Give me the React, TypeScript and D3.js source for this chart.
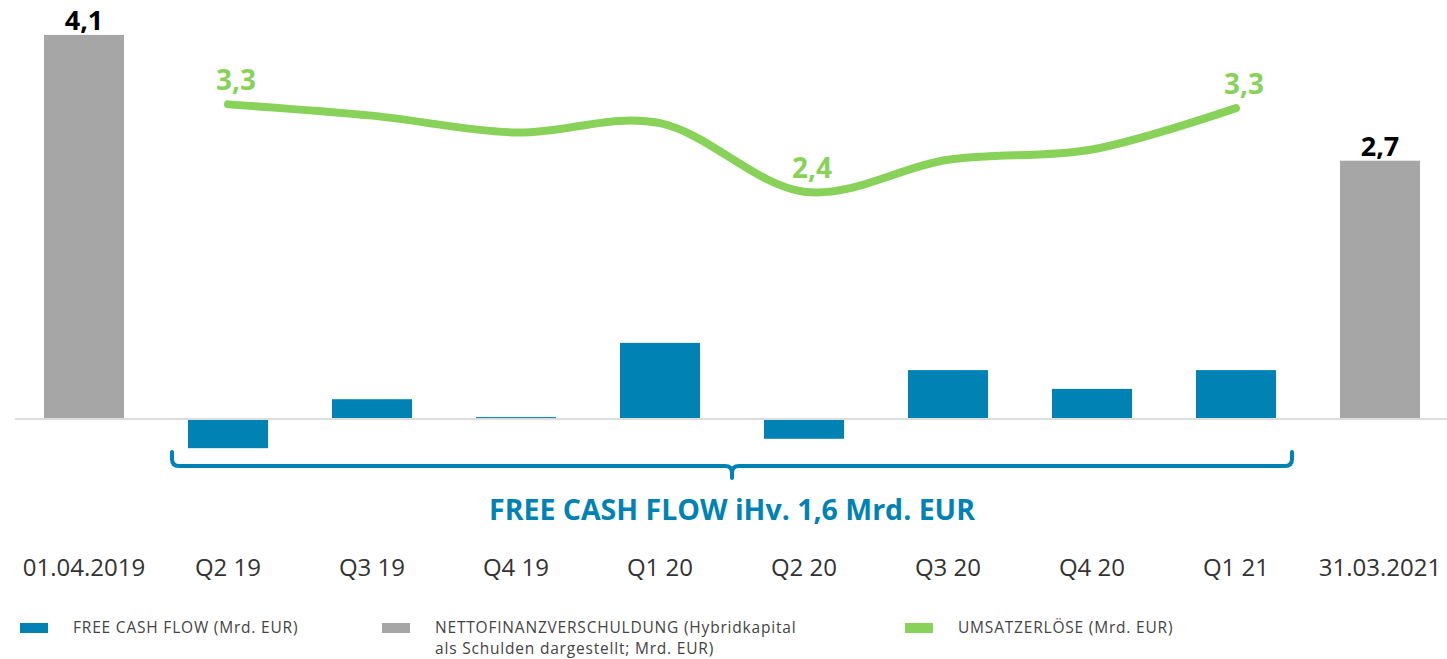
import React from "react";
import * as d3 from "d3";

const categories = ["01.04.2019", "Q2 19", "Q3 19", "Q4 19", "Q1 20", "Q2 20", "Q3 20", "Q4 20", "Q1 21", "31.03.2021"];
const debtCategories = ["01.04.2019", "31.03.2021"];
const debtValues = [4.08, 2.74];
const fcfCategories = ["Q2 19", "Q3 19", "Q4 19", "Q1 20", "Q2 20", "Q3 20", "Q4 20", "Q1 21"];
const fcfValues = [-0.3, 0.2, 0.01, 0.8, -0.2, 0.51, 0.31, 0.51];
const revenueValues = [3.34, 3.22, 3.04, 3.14, 2.41, 2.75, 2.86, 3.3];
const revenueLabelIndex = [0, 4, 7];
const bracketText = "FREE CASH FLOW iHv. 1,6 Mrd. EUR";
const legendItems = [
  { label: ["FREE CASH FLOW (Mrd. EUR)"], color: "#0082B4" },
  { label: ["NETTOFINANZVERSCHULDUNG (Hybridkapital", "als Schulden dargestellt; Mrd. EUR)"], color: "#A6A6A6" },
  { label: ["UMSATZERLÖSE (Mrd. EUR)"], color: "#88D25A" },
];

const W = 1447;
const H = 659;
const BLUE = "#0082B4";
const GRAY = "#A6A6A6";
const GREEN = "#88D25A";
const FONT = "'Open Sans', 'Noto Sans', sans-serif";

const fmt = (v: number) => d3.format(".1f")(v).replace(".", ",");

export default function App() {
  const x = d3.scaleBand<string>().domain(categories).range([12, 1452]).paddingInner(0.4444).paddingOuter(0.2222);
  const y = d3.scaleLinear().domain([0, 4.1]).range([418, 33]);
  const cx = (c: string) => (x(c) as number) + x.bandwidth() / 2;

  const linePts = fcfCategories.map((c, i) => [cx(c), y(revenueValues[i])] as [number, number]);
  const line = d3.line().curve(d3.curveCatmullRom.alpha(0))(linePts) as string;

  const bx0 = (x(fcfCategories[0]) as number) - 16;
  const bx1 = (x(fcfCategories[fcfCategories.length - 1]) as number) + x.bandwidth() + 16;
  const bmid = (bx0 + bx1) / 2;
  const by = 466;
  const r = 7;
  const bracket =
    `M${bx0},${by - 14} L${bx0},${by - r} Q${bx0},${by} ${bx0 + r},${by} ` +
    `L${bmid - 7},${by} Q${bmid},${by} ${bmid},${by + 7} L${bmid},${by + 12} ` +
    `M${bmid},${by + 7} Q${bmid},${by} ${bmid + 7},${by} ` +
    `L${bx1 - r},${by} Q${bx1},${by} ${bx1},${by - r} L${bx1},${by - 14}`;

  const legendX = [20, 382, 905];

  return (
    <svg width={W} height={H} style={{ position: "absolute", left: 0, top: 0, background: "#fff" }} fontFamily={FONT}>
      {/* net debt bars */}
      {debtCategories.map((c, i) => (
        <g key={c}>
          <rect x={x(c)} y={y(debtValues[i])} width={x.bandwidth()} height={y(0) - y(debtValues[i])} fill={GRAY} />
          <text x={cx(c)} y={y(debtValues[i]) - 5} textAnchor="middle" fontSize={27} fontWeight={700} fill="#000">
            {fmt(debtValues[i])}
          </text>
        </g>
      ))}
      {/* free cash flow bars */}
      {fcfCategories.map((c, i) => {
        const v = fcfValues[i];
        const top = v >= 0 ? y(v) : y(0) + 2;
        const h = v >= 0 ? y(0) - y(v) : y(v) - y(0);
        return <rect key={c} x={x(c)} y={top} width={x.bandwidth()} height={Math.max(h, 0.5)} fill={BLUE} />;
      })}
      {/* baseline */}
      <line x1={15} x2={1447} y1={y(0) + 1} y2={y(0) + 1} stroke="#DDDDDD" strokeWidth={2} />
      {/* revenue line */}
      <path d={line} fill="none" stroke={GREEN} strokeWidth={8} strokeLinecap="round" />
      {revenueLabelIndex.map((i) => (
        <text key={i} x={linePts[i][0] + 8} y={linePts[i][1] - 14} textAnchor="middle" fontSize={28} fontWeight={700} fill={GREEN}>
          {fmt(revenueValues[i])}
        </text>
      ))}
      {/* bracket */}
      <path d={bracket} fill="none" stroke={BLUE} strokeWidth={4} strokeLinecap="round" strokeLinejoin="round" />
      <text x={bmid} y={520} textAnchor="middle" fontSize={28.5} fontWeight={700} fill={BLUE}>
        {bracketText}
      </text>
      {/* category labels */}
      {categories.map((c) => (
        <text key={c} x={cx(c)} y={576} textAnchor="middle" fontSize={24} fill="#333">
          {c}
        </text>
      ))}
      {/* legend */}
      {legendItems.map((it, i) => (
        <g key={i} transform={`translate(${legendX[i]},0)`}>
          <rect x={0} y={623} width={28} height={10} fill={it.color} />
          {it.label.map((l, j) => (
            <text key={j} x={53} y={632.5 + j * 21.5} fontSize={15.5} letterSpacing={0.8} fill="#444">
              {l}
            </text>
          ))}
        </g>
      ))}
    </svg>
  );
}
